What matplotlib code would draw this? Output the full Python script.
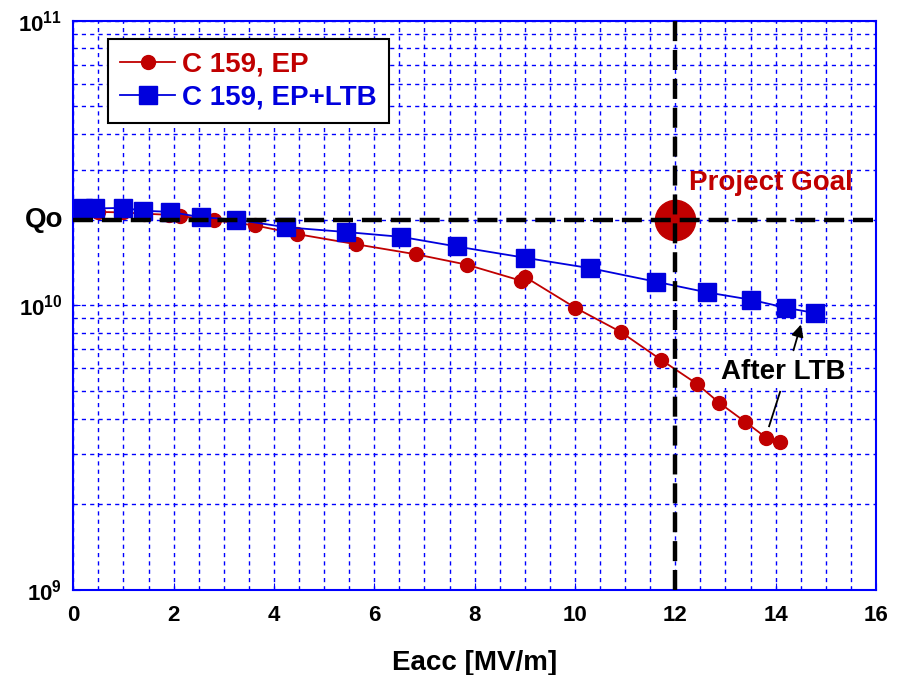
import numpy as np
import matplotlib
matplotlib.use('Agg')
import matplotlib.pyplot as plt
from matplotlib.ticker import LogLocator, MultipleLocator, NullFormatter, FixedFormatter, FixedLocator
import matplotlib.transforms as mtransforms

plt.rcParams['font.family'] = ['Liberation Sans', 'DejaVu Sans']
plt.rcParams['font.weight'] = 'bold'
plt.rcParams['mathtext.fontset'] = 'custom'
plt.rcParams['mathtext.rm'] = 'Liberation Sans:bold'
plt.rcParams['mathtext.bf'] = 'Liberation Sans:bold'

# Q0 vs Eacc, cavity C 159
eacc_ep = [0.25, 0.5, 1.0, 1.4, 1.9, 2.13, 2.81, 3.62, 4.46, 5.63, 6.84, 7.84, 8.93, 9.0,
           10.01, 10.91, 11.72, 12.43, 12.88, 13.39, 13.81, 14.08]
q0_ep = [2.15e10, 2.13e10, 2.12e10, 2.10e10, 2.08e10, 2.06e10, 1.99e10, 1.91e10, 1.78e10,
         1.64e10, 1.51e10, 1.39e10, 1.22e10, 1.26e10, 9.8e9, 8.07e9, 6.43e9, 5.3e9,
         4.54e9, 3.90e9, 3.43e9, 3.32e9]

eacc_ltb = [0.2, 0.43, 1.0, 1.39, 1.93, 2.54, 3.25, 4.25, 5.43, 6.54, 7.64, 9.0, 10.31,
            11.62, 12.64, 13.50, 14.21, 14.78]
q0_ltb = [2.20e10, 2.19e10, 2.20e10, 2.15e10, 2.13e10, 2.04e10, 2.00e10, 1.88e10, 1.81e10,
          1.74e10, 1.61e10, 1.47e10, 1.35e10, 1.21e10, 1.11e10, 1.047e10, 9.8e9, 9.4e9]

goal_eacc = 12
goal_q0 = 2e10

red = '#c00000'
blue = '#0000dd'

fig = plt.figure(figsize=(9.08, 6.75), dpi=100)
ax = fig.add_axes([0.0807, 0.126, 0.884, 0.8433])

ax.plot(eacc_ep, q0_ep, '-o', color=red, lw=1.3, ms=10, mfc=red, mec=red,
        label='C 159, EP', zorder=3)
ax.plot(eacc_ltb, q0_ltb, '-s', color=blue, lw=1.3, ms=12.5, mfc=blue, mec=blue,
        label='C 159, EP+LTB', zorder=4)

# project goal
ax.plot([goal_eacc], [goal_q0], 'o', color=red, ms=29, zorder=5)
ax.axhline(goal_q0, color='black', lw=3.2, dashes=(4.5, 2), zorder=6)
ax.axvline(goal_eacc, color='black', lw=3.2, dashes=(4.5, 2), zorder=6)

ax.set_yscale('log')
ax.set_xlim(0, 16)
ax.set_ylim(1e9, 1e11)

ax.xaxis.set_major_locator(MultipleLocator(2))
ax.xaxis.set_minor_locator(MultipleLocator(0.5))
ax.yaxis.set_major_locator(FixedLocator([1e9, 1e10, 1e11]))
ax.yaxis.set_major_formatter(FixedFormatter([r'$10^{9}$', r'$10^{10}$', r'$10^{11}$']))
ax.yaxis.set_minor_locator(LogLocator(base=10, subs=np.arange(2, 10)))
ax.yaxis.set_minor_formatter(NullFormatter())

ax.grid(True, which='both', color='#0000ff', lw=1.0, linestyle=(0, (3, 3)), zorder=1)
ax.set_axisbelow(True)

for s in ax.spines.values():
    s.set_color('#0000ff')
    s.set_linewidth(1.5)
ax.tick_params(which='both', direction='in', colors='#0000ff', labelcolor='black')
ax.tick_params(axis='x', which='major', labelsize=16, pad=11)
ax.tick_params(axis='y', which='major', labelsize=16, pad=8)
ax.tick_params(which='major', length=5)
ax.tick_params(which='minor', length=3)

ax.set_xlabel('Eacc [MV/m]', fontsize=20, fontweight='bold', labelpad=17)

# Qo label next to the y axis
trans = mtransforms.blended_transform_factory(ax.transAxes, ax.transData)
ax.text(-0.012, goal_q0, 'Qo', transform=trans, ha='right', va='center',
        fontsize=20, fontweight='bold')

ax.text(13.9, 2.69e10, 'Project Goal', color=red, fontsize=20, fontweight='bold',
        ha='center', va='center', zorder=7)

ax.text(14.16, 5.82e9, 'After LTB', color='black', fontsize=20, fontweight='bold',
        ha='center', va='center', zorder=7,
        bbox=dict(facecolor='white', edgecolor='none', pad=2))
ax.annotate('', xy=(14.52, 8.75e9), xytext=(14.34, 6.8e9),
            arrowprops=dict(arrowstyle='-|>', color='black', lw=1.3, mutation_scale=18),
            zorder=7)
ax.plot([14.09, 13.87], [4.97e9, 3.76e9], color='black', lw=1.3, zorder=7)

leg = ax.legend(loc='upper left', bbox_to_anchor=(0.0432, 0.968), borderaxespad=0,
                fontsize=20, fancybox=False, edgecolor='black', framealpha=1,
                handlelength=1.95, handletextpad=0.25, borderpad=0.45, labelspacing=0.25)
leg.get_frame().set_linewidth(1.5)
for txt, c in zip(leg.get_texts(), [red, blue]):
    txt.set_color(c)
    txt.set_fontweight('bold')

fig.savefig('out.png', dpi=100)
